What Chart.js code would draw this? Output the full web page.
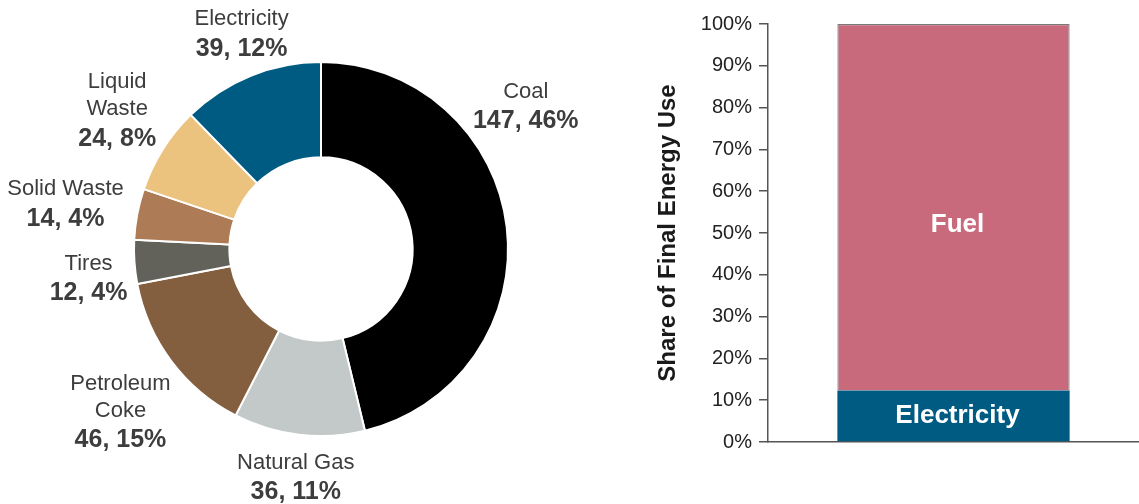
<!DOCTYPE html>
<html>
<head>
<meta charset="utf-8">
<script src="https://cdn.jsdelivr.net/npm/chart.js@4.4.1/dist/chart.umd.min.js"></script>
<style>
  html, body { margin: 0; padding: 0; background: #fff; }
  #wrap { position: relative; width: 1139px; height: 504px; }
  #left { position: absolute; left: 0; top: 0; width: 642px; height: 504px; }
  #right { position: absolute; left: 642px; top: 0; width: 497px; height: 504px; }
</style>
</head>
<body>
<div id="wrap">
  <div id="left"><canvas id="donutChart"></canvas></div>
  <div id="right"><canvas id="barChart"></canvas></div>
</div>
<script>
// data
const sources = ['Coal', 'Natural Gas', 'Petroleum Coke', 'Tires', 'Solid Waste', 'Liquid Waste', 'Electricity'];
const sourceLines = [['Coal'], ['Natural Gas'], ['Petroleum', 'Coke'], ['Tires'], ['Solid Waste'], ['Liquid', 'Waste'], ['Electricity']];
const energyUse = [147, 36, 46, 12, 14, 24, 39];
const sharePct = [46, 11, 15, 4, 4, 8, 12];

const useTypes = ['Electricity', 'Fuel'];
const useShare = [12.3, 87.7];
const yTicks = [0, 10, 20, 30, 40, 50, 60, 70, 80, 90, 100];

const sourceColors = ['#000000', '#c3c8c8', '#835f40', '#62625a', '#ad7b56', '#ebc27e', '#005b82'];
const useColors = ['#005b82', '#c9697c'];

// label placement around the ring: distance from centre (px at r=186) and angle tweak (deg)
const labelDist = [248, 229, 257, 233, 258, 245, 228];
const labelTurn = [-28, -0.5, -2.3, -3.2, -0.8, 1.9, 1.8];
// where the white bar labels sit, in axis units
const useLabelAt = [6.2, 52];

const FONT = "'Liberation Sans', Arial, Helvetica, sans-serif";
Chart.defaults.font.family = FONT;

const donutLabels = {
  id: 'donutLabels',
  afterDatasetsDraw(chart) {
    const ctx = chart.ctx;
    const meta = chart.getDatasetMeta(0);
    ctx.save();
    ctx.fillStyle = '#3d3d3d';
    ctx.textAlign = 'center';
    ctx.textBaseline = 'middle';
    meta.data.forEach((arc, i) => {
      const p = arc.getProps(['x', 'y', 'startAngle', 'endAngle', 'outerRadius'], true);
      const a = (p.startAngle + p.endAngle) / 2 + labelTurn[i] * Math.PI / 180;
      const d = labelDist[i] * p.outerRadius / 186;
      const cx = p.x + Math.cos(a) * d;
      const cy = p.y + Math.sin(a) * d;
      const names = sourceLines[i];
      const valueY = (names.length - 1) * 27 + 29.5;
      const top = cy - valueY / 2;
      ctx.font = '22px ' + FONT;
      names.forEach((n, k) => ctx.fillText(n, cx, top + k * 27));
      ctx.font = 'bold 25px ' + FONT;
      ctx.fillText(energyUse[i] + ', ' + sharePct[i] + '%', cx, top + valueY);
    });
    ctx.restore();
  }
};

const barLabels = {
  id: 'barLabels',
  afterDatasetsDraw(chart) {
    const ctx = chart.ctx;
    const yScale = chart.scales.y;
    ctx.save();
    ctx.fillStyle = '#ffffff';
    ctx.textAlign = 'center';
    ctx.textBaseline = 'middle';
    ctx.font = 'bold 26px ' + FONT;
    chart.data.datasets.forEach((ds, i) => {
      chart.getDatasetMeta(i).data.forEach(bar => {
        ctx.fillText(ds.label, bar.x + 4, yScale.getPixelForValue(useLabelAt[i]));
      });
    });
    ctx.restore();
  }
};

new Chart(document.getElementById('donutChart'), {
  type: 'doughnut',
  data: {
    labels: sources,
    datasets: [{
      data: energyUse,
      backgroundColor: sourceColors,
      borderColor: '#ffffff',
      borderWidth: 2
    }]
  },
  options: {
    responsive: true,
    maintainAspectRatio: false,
    animation: false,
    cutout: '49%',
    layout: { padding: { top: 61, bottom: 67, left: 133, right: 133 } },
    plugins: { legend: { display: false }, tooltip: { enabled: false } }
  },
  plugins: [donutLabels]
});

new Chart(document.getElementById('barChart'), {
  type: 'bar',
  data: {
    labels: [''],
    datasets: useTypes.map((t, i) => ({
      label: t,
      data: [useShare[i]],
      backgroundColor: useColors[i],
      borderColor: '#7a7a7a',
      borderWidth: i === 0 ? 0 : 1.2,
      borderSkipped: 'bottom',
      categoryPercentage: 1,
      barPercentage: 0.626
    }))
  },
  options: {
    responsive: true,
    maintainAspectRatio: false,
    animation: false,
    layout: { padding: { top: 24, bottom: 62, left: 0, right: 0 } },
    plugins: { legend: { display: false }, tooltip: { enabled: false } },
    scales: {
      x: {
        stacked: true,
        grid: { display: false, drawTicks: false },
        border: { color: '#555555', width: 1.5 },
        ticks: { display: false }
      },
      y: {
        stacked: true,
        min: 0,
        max: 100,
        afterBuildTicks(s) { s.ticks = yTicks.map(v => ({ value: v })); },
        afterFit(s) { s.width = 126; },
        ticks: {
          callback: v => v + '%',
          color: '#222222',
          font: { size: 20 },
          padding: 7
        },
        grid: { drawOnChartArea: false, tickLength: 9, color: '#555555', lineWidth: 1.5 },
        border: { color: '#555555', width: 1.5 },
        title: {
          display: true,
          text: 'Share of Final Energy Use',
          color: '#1a1a1a',
          font: { size: 24, weight: 'bold' },
          padding: { top: 12, bottom: 0 }
        }
      }
    }
  },
  plugins: [barLabels]
});
</script>
</body>
</html>
